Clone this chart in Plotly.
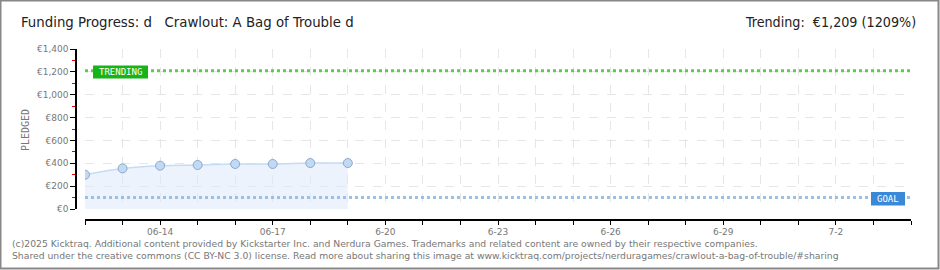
import plotly.graph_objects as go
import pandas as pd

# ---- data ----
dates = ['2025-06-12', '2025-06-13', '2025-06-14', '2025-06-15',
         '2025-06-16', '2025-06-17', '2025-06-18', '2025-06-19']
pledged = [300, 355, 379, 385, 394, 394, 402, 402]
goal = 100
trending = 1209
tick_dates = [d.strftime('%Y-%m-%d') for d in pd.date_range('2025-06-12', '2025-07-04')]
tick_label_map = {'2025-06-14': '06-14', '2025-06-17': '06-17', '2025-06-20': '6-20',
                  '2025-06-23': '6-23', '2025-06-26': '6-26', '2025-06-29': '6-29',
                  '2025-07-02': '7-2'}
tick_texts = [tick_label_map.get(d, '') for d in tick_dates]
y_tickvals = [0, 200, 400, 600, 800, 1000, 1200, 1400]
y_ticktext = ['€0', '€200', '€400', '€600', '€800', '€1,000', '€1,200', '€1,400']

W, H = 940, 270
ML, MR, MT, MB = 76, 29, 49, 50
PW, PH = W - ML - MR, H - MT - MB

def px(x):
    return (x - ML) / PW

def py(y):
    return (H - MB - y) / PH

fig = go.Figure()
fig.add_trace(go.Scatter(
    x=dates, y=pledged, mode='lines+markers',
    line=dict(color='#c4dcf4', width=1.5, shape='spline'),
    fill='tozeroy', fillcolor='rgba(220,234,250,0.55)',
    marker=dict(size=9, color='#c0daf6', line=dict(color='#8ea8c8', width=1)),
    hoverinfo='skip', showlegend=False))
fig.add_trace(go.Scatter(
    x=[tick_dates[0], tick_dates[-1]], y=[trending, trending], mode='lines',
    line=dict(color='#5ccc4c', width=3, dash='dot'), showlegend=False, hoverinfo='skip'))
fig.add_trace(go.Scatter(
    x=[tick_dates[0], tick_dates[-1]], y=[goal, goal], mode='lines',
    line=dict(color='#9cbfe6', width=3, dash='dot'), showlegend=False, hoverinfo='skip'))

tickfont = dict(family='DejaVu Sans', size=9, color='#777')
fig.update_xaxes(
    type='date', range=[tick_dates[0], tick_dates[-1]],
    domain=[px(85), 1], anchor='free', position=0,
    tickmode='array', tickvals=tick_dates, ticktext=tick_texts,
    showgrid=True, gridcolor='#e6e6e6', griddash='dash', gridwidth=1,
    showline=True, linecolor='#000', linewidth=1.5,
    ticks='outside', ticklen=4, tickcolor='#000', tickwidth=1.2,
    ticklabelstandoff=-1,
    tickfont=tickfont, zeroline=False)
fig.update_yaxes(
    range=[0, 1400], domain=[py(209), 1], anchor='free', position=0,
    tickmode='array', tickvals=y_tickvals, ticktext=y_ticktext,
    showgrid=True, gridcolor='#e6e6e6', griddash='dash', gridwidth=1,
    showline=True, linecolor='#000', linewidth=1.5,
    ticks='outside', ticklen=5, tickcolor='#000', tickwidth=1.2,
    minor=dict(dtick=100, tick0=100, ticks='outside', ticklen=3, tickcolor='#e00000', showgrid=False),
    tickfont=tickfont, zeroline=False)

shapes = [
    dict(type='rect', xref='paper', yref='paper', x0=px(0.5), x1=px(938.5), y0=py(0.5), y1=py(268.5),
         line=dict(color='#888', width=2), fillcolor='rgba(0,0,0,0)', layer='above'),
    dict(type='rect', xref='paper', yref='paper', x0=px(93), x1=px(148), y0=py(65.5), y1=py(78.5),
         line=dict(width=0), fillcolor='#17b417', layer='above'),
    dict(type='rect', xref='paper', yref='paper', x0=px(871), x1=px(905), y0=py(192), y1=py(205.5),
         line=dict(width=0), fillcolor='#3a88d8', layer='above'),
]

ann = [
    dict(text='Funding Progress: d   Crawlout: A Bag of Trouble d', x=px(19), y=py(22),
         xanchor='left', yanchor='middle', font=dict(family='DejaVu Sans Condensed', size=14.8, color='#222')),
    dict(text='Trending:  €1,209 (1209%)', x=px(918), y=py(22),
         xanchor='right', yanchor='middle', font=dict(family='DejaVu Sans Condensed', size=14.2, color='#222')),
    dict(text='PLEDGED', x=px(25), y=py(130), textangle=-90, xanchor='center', yanchor='middle',
         font=dict(family='DejaVu Sans Mono', size=10, color='#777')),
    dict(text='TRENDING', x=px(120.5), y=py(72), xanchor='center', yanchor='middle',
         font=dict(family='DejaVu Sans Mono', size=9, color='#fff')),
    dict(text='GOAL', x=px(888), y=py(199), xanchor='center', yanchor='middle',
         font=dict(family='DejaVu Sans Mono', size=9, color='#fff')),
    dict(text='(c)2025 Kicktraq. Additional content provided by Kickstarter Inc. and Nerdura Games. Trademarks and related content are owned by their respective companies.',
         x=px(10), y=py(243), xanchor='left', yanchor='middle',
         font=dict(family='DejaVu Sans', size=9.25, color='#777')),
    dict(text='Shared under the creative commons (CC BY-NC 3.0) license. Read more about sharing this image at www.kicktraq.com/projects/nerduragames/crawlout-a-bag-of-trouble/#sharing',
         x=px(10), y=py(255), xanchor='left', yanchor='middle',
         font=dict(family='DejaVu Sans', size=9.25, color='#777')),
]
for a in ann:
    a.update(xref='paper', yref='paper', showarrow=False)

fig.update_layout(
    width=W, height=H, margin=dict(l=ML, r=MR, t=MT, b=MB),
    paper_bgcolor='#fff', plot_bgcolor='#fff',
    shapes=shapes, annotations=ann, showlegend=False)

fig.write_html('out.html')
